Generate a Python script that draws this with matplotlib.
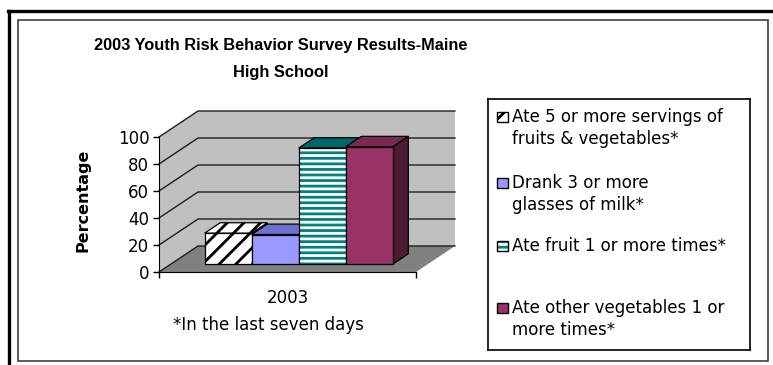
import matplotlib
matplotlib.use("Agg")
import matplotlib.pyplot as plt
from matplotlib.patches import Polygon, Rectangle
from matplotlib.lines import Line2D

# ---------------- data ----------------
categories = ["2003"]
series_labels = [
    "Ate 5 or more servings of\nfruits & vegetables*",
    "Drank 3 or more\nglasses of milk*",
    "Ate fruit 1 or more times*",
    "Ate other vegetables 1 or\nmore times*",
]
values = [23, 22, 86, 87]
y_ticks = [0, 20, 40, 60, 80, 100]
title = "2003 Youth Risk Behavior Survey Results-Maine\nHigh School"
y_label = "Percentage"
footnote = "*In the last seven days"

# ---------------- styles ----------------
front_colors = ["white", "#9999FF", "white", "#993366"]
top_colors = ["white", "#6F6FD0", "#006868", "#7A2952"]
side_colors = ["#404040", "#4D4D80", "#004848", "#4C1A33"]
hatches = ["//", None, "---", None]
hatch_colors = ["black", None, "#008080", None]
plt.rcParams["hatch.linewidth"] = 2.0

BODY = ["DejaVu Sans"]
BOLD = ["Liberation Sans", "DejaVu Sans"]

W, H, DPI = 773, 365, 100
fig = plt.figure(figsize=(W / DPI, H / DPI), dpi=DPI)
fig.patch.set_facecolor("white")


def fx(px):
    return px / W


def fy(py):
    return 1 - py / H


# outer frame decorations
fig.add_artist(Line2D([fx(8), fx(W + 5)], [fy(11), fy(11)], color="black", lw=2.4))
fig.add_artist(Line2D([fx(8.5), fx(8.5)], [fy(11), fy(H + 5)], color="black", lw=2.4))
fig.add_artist(Rectangle((fx(18), fy(361)), fx(768) - fx(18), fy(20) - fy(361),
                         fill=False, edgecolor="#404040", lw=1.2))

# front plane of the 3-D plot area
L, R, B, T = 159, 416, 272, 137
ax = fig.add_axes([fx(L), fy(B), fx(R) - fx(L), fy(T) - fy(B)])
ax.set_xlim(-0.5, 0.5)
ax.set_ylim(0, 100)
ax.patch.set_visible(False)

DX = 39 / (R - L) * 1.0          # depth offset in x data units
DY = 26 / (B - T) * 100.0        # depth offset in y data units
x0, x1 = ax.get_xlim()
y0, y1 = ax.get_ylim()

# walls and floor
ax.add_patch(Polygon([(x0, y0), (x0 + DX, y0 + DY), (x0 + DX, y1 + DY), (x0, y1)],
                     closed=True, facecolor="#C0C0C0", edgecolor="none", clip_on=False, zorder=0))
ax.add_patch(Polygon([(x0 + DX, y0 + DY), (x1 + DX, y0 + DY), (x1 + DX, y1 + DY), (x0 + DX, y1 + DY)],
                     closed=True, facecolor="#C0C0C0", edgecolor="none", clip_on=False, zorder=0))
ax.add_patch(Polygon([(x0, y0), (x1, y0), (x1 + DX, y0 + DY), (x0 + DX, y0 + DY)],
                     closed=True, facecolor="#808080", edgecolor="none", clip_on=False, zorder=0.5))
for v in y_ticks:
    ax.plot([x0, x0 + DX, x1 + DX], [v, v + DY, v + DY], color="#1E1E1E", lw=1.0,
            clip_on=False, zorder=0.6)

# bars (Excel style 3-D columns)
w = 0.183
start = -0.368
d1, d2 = 0.3, 0.7
for i, v in enumerate(values):
    c = start + w * (i + 0.5)
    xa = c - w / 2 + d1 * DX
    xb = c + w / 2 + d1 * DX
    yb = d1 * DY
    yt = v + d1 * DY
    ddx = (d2 - d1) * DX
    ddy = (d2 - d1) * DY
    z = 2 + i
    # side face
    ax.add_patch(Polygon([(xb, yb), (xb + ddx, yb + ddy), (xb + ddx, yt + ddy), (xb, yt)],
                         closed=True, facecolor=side_colors[i], edgecolor="black", lw=0.9,
                         clip_on=False, zorder=z))
    # top face
    tp = Polygon([(xa, yt), (xb, yt), (xb + ddx, yt + ddy), (xa + ddx, yt + ddy)],
                 closed=True, facecolor=top_colors[i], edgecolor="black", lw=0.9,
                 clip_on=False, zorder=z)
    if hatches[i] == "//":
        tp.set_hatch(hatches[i])
    ax.add_patch(tp)
    # front face
    if hatches[i] is not None:
        ax.bar(c + d1 * DX, v, w, bottom=yb, color=front_colors[i], hatch=hatches[i],
               edgecolor=hatch_colors[i], lw=0, zorder=z + 0.1, clip_on=False)
    ax.bar(c + d1 * DX, v, w, bottom=yb, facecolor=front_colors[i] if hatches[i] is None else "none",
           edgecolor="black", lw=0.9, zorder=z + 0.2, clip_on=False)

# axes styling
for s in ["top", "right"]:
    ax.spines[s].set_visible(False)
ax.spines["left"].set_color("black")
ax.spines["bottom"].set_color("black")
ax.spines["left"].set_zorder(10)
ax.spines["bottom"].set_zorder(10)
ax.set_yticks(y_ticks)
ax.set_yticklabels([str(t) for t in y_ticks], fontsize=12, family=BODY)
ax.tick_params(axis="y", direction="out", length=4, width=1, pad=3)
ax.set_xticks([0])
ax.set_xticklabels(categories, fontsize=12, family=BODY)
ax.set_xticks([x0, x1], minor=True)
ax.tick_params(axis="x", which="major", length=0, pad=12)
ax.tick_params(axis="x", which="minor", direction="out", length=4, width=1)

# texts
fig.text(fx(281), fy(59), title, ha="center", va="center", fontsize=11.8,
         fontweight="bold", family=BOLD, linespacing=2.0)
fig.text(fx(83), fy(200), y_label, ha="center", va="center", rotation=90,
         fontsize=11.5, fontweight="bold", family=["DejaVu Sans"])
fig.text(fx(268), fy(325), footnote, ha="center", va="center", fontsize=12, family=BODY)

# legend
lg = fig.add_axes([fx(488), fy(350), fx(750) - fx(488), fy(99) - fy(350)])
lg.set_xlim(488, 750)
lg.set_ylim(350, 99)
lg.set_xticks([])
lg.set_yticks([])
for s in lg.spines.values():
    s.set_color("black")
    s.set_linewidth(1.2)
first_line_y = [117, 183, 246, 308]
for i, lab in enumerate(series_labels):
    yc = first_line_y[i]
    if hatches[i] is not None:
        lg.add_patch(Rectangle((497, yc - 5), 11, 10, facecolor=front_colors[i],
                               hatch=hatches[i], edgecolor=hatch_colors[i], lw=0))
        lg.add_patch(Rectangle((497, yc - 5), 11, 10, facecolor="none",
                               edgecolor="black", lw=1.0))
    else:
        lg.add_patch(Rectangle((497, yc - 5), 11, 10, facecolor=front_colors[i],
                               edgecolor="black", lw=1.0))
    lg.text(512, yc - 9, lab, ha="left", va="top", fontsize=12, family=BODY,
            linespacing=1.28)

fig.savefig("out.png", dpi=DPI)
